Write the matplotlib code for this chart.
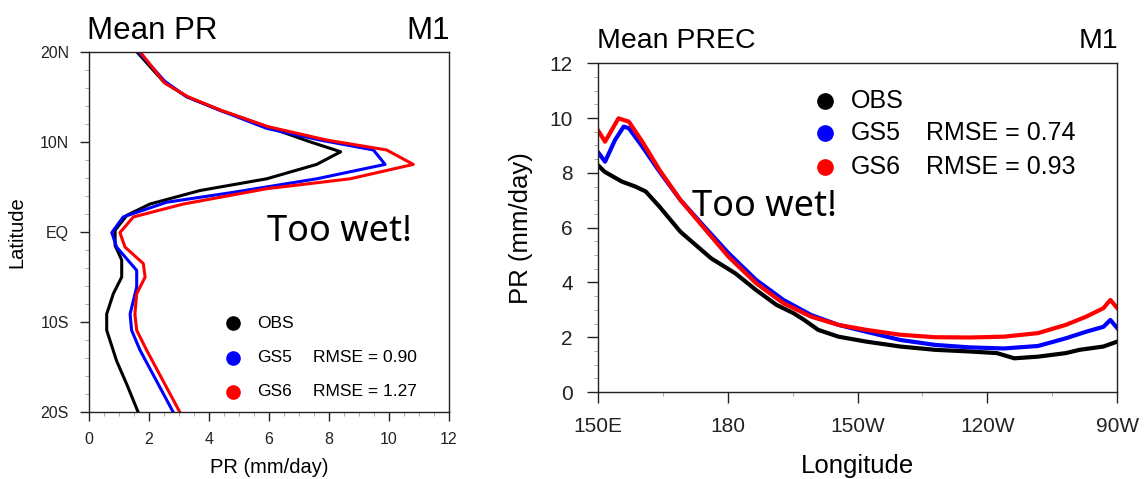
import matplotlib
matplotlib.use('Agg')
import matplotlib.pyplot as plt
from matplotlib.ticker import MultipleLocator

plt.rcParams['font.family'] = ['Liberation Sans', 'DejaVu Sans']

# left panel: zonal mean precip vs latitude
obs_lat = [20, 16.7, 15, 13.5, 11.7, 10, 8.9, 7.5, 5.9, 4.6, 3.1, 1.85, 0.2, -1.5, -3.1, -5, -6.85, -9.1, -10.9, -14.3, -16.9, -20]
obs_pr = [1.59, 2.48, 3.26, 4.37, 5.92, 7.37, 8.39, 7.59, 5.92, 3.7, 2.03, 1.26, 0.87, 0.87, 1.09, 1.09, 0.81, 0.59, 0.59, 0.92, 1.26, 1.64]
gs5_lat = [20, 16.7, 15, 13.5, 11.5, 10.2, 9.1, 7.5, 5.9, 4.4, 3.3, 1.67, -0.07, -1.67, -4.26, -6.1, -9.1, -10.9, -13.1, -20]
gs5_pr = [1.65, 2.53, 3.26, 4.37, 5.92, 7.7, 9.48, 9.87, 7.59, 4.81, 2.59, 1.14, 0.76, 0.92, 1.59, 1.59, 1.37, 1.42, 1.7, 2.81]
gs6_lat = [20, 16.5, 15, 13.5, 11.7, 10.2, 9.1, 7.5, 5.9, 4.8, 3.1, 1.67, -0.07, -1.67, -3.5, -5, -6.85, -9.1, -10.9, -13.1, -20]
gs6_pr = [1.7, 2.53, 3.3, 4.4, 5.95, 7.92, 9.92, 10.81, 8.7, 5.92, 3.14, 1.48, 1.03, 1.2, 1.81, 1.87, 1.59, 1.53, 1.59, 1.92, 3.03]
lat_ticks = [-20, -10, 0, 10, 20]
lat_labels = ['20S', '10S', 'EQ', '10N', '20N']
rmse_left = ['0.90', '1.27']

# right panel: precip vs longitude (0-360 east)
obs_lon = [150, 151.6, 155.6, 158.7, 161.1, 164.3, 169.1, 176.2, 181.8, 186.6, 191.3, 195.3, 197.7, 200.9, 205.6, 212, 219.9, 227.9, 235.8, 242.2, 246.2, 251.7, 258.1, 261.3, 266.8, 270]
obs_prec = [8.29, 8.04, 7.68, 7.5, 7.32, 6.76, 5.85, 4.88, 4.33, 3.72, 3.18, 2.87, 2.63, 2.27, 2.02, 1.84, 1.66, 1.54, 1.48, 1.42, 1.23, 1.29, 1.42, 1.54, 1.66, 1.84]
gs5_lon = [150, 151.7, 154, 156, 157.2, 160.3, 164.3, 169.1, 174.6, 180.2, 186.6, 192.9, 199.3, 205.6, 212, 219.9, 227.9, 235.8, 243.8, 251.7, 258.1, 262.8, 266.8, 268.4, 270]
gs5_prec = [8.77, 8.41, 9.2, 9.69, 9.63, 8.96, 8.04, 7.01, 6.04, 5.07, 4.09, 3.36, 2.81, 2.45, 2.2, 1.9, 1.72, 1.63, 1.59, 1.68, 1.96, 2.2, 2.38, 2.63, 2.33]
gs6_lon = [150, 151.7, 154.8, 157.2, 160.3, 164.3, 169.1, 174.6, 180.2, 186.6, 192.9, 199.3, 205.6, 212, 219.9, 227.9, 235.8, 243.8, 251.7, 258.1, 262.8, 266.8, 268.4, 270]
gs6_prec = [9.57, 9.14, 9.99, 9.87, 9.14, 8.1, 7.01, 5.98, 4.94, 3.97, 3.24, 2.75, 2.45, 2.27, 2.09, 2.0, 1.99, 2.02, 2.15, 2.45, 2.75, 3.06, 3.36, 3.06]
lon_ticks = [150, 180, 210, 240, 270]
lon_labels = ['150E', '180', '150W', '120W', '90W']
rmse_right = ['0.74', '0.93']

W, H = 1147, 479
fig = plt.figure(figsize=(W / 100, H / 100), dpi=100)


def px_axes(x0, y0, x1, y1):
    # pixel box (top-left origin) -> figure fraction
    return fig.add_axes([x0 / W, 1 - y1 / H, (x1 - x0) / W, (y1 - y0) / H])


def style_box(ax, lab_size, major_len, pad):
    for s in ax.spines.values():
        s.set_linewidth(1.0)
        s.set_color('#222222')
    ax.tick_params(which='both', direction='out', top=False, right=False, colors='#222222')
    ax.tick_params(which='major', length=major_len, width=1.0, labelsize=lab_size, pad=pad)
    ax.tick_params(which='minor', length=3, width=0.7, color='#aaaaaa')


colors = ['black', '#0000ff', '#ff0000']

# ---------- left ----------
ax1 = px_axes(89, 51.7, 449, 412.3)
ax1.plot(obs_pr, obs_lat, color=colors[0], lw=2.2)
ax1.plot(gs5_pr, gs5_lat, color=colors[1], lw=2.2)
ax1.plot(gs6_pr, gs6_lat, color=colors[2], lw=2.2)
ax1.set_xlim(0, 12)
ax1.set_ylim(-20, 20)
ax1.set_xticks(range(0, 13, 2))
ax1.set_yticks(lat_ticks)
ax1.set_yticklabels(lat_labels)
ax1.xaxis.set_minor_locator(MultipleLocator(0.5))
ax1.yaxis.set_minor_locator(MultipleLocator(2))
style_box(ax1, 11.5, 6.5, 8)
ax1.set_xlabel('PR (mm/day)', fontsize=14.5)
ax1.set_ylabel('Latitude', fontsize=14.5)
ax1.xaxis.set_label_coords(0.5, -0.128)
ax1.yaxis.set_label_coords(-0.175, 0.5)

names = ['OBS', 'GS5', 'GS6']
ys = [0.2476, 0.1506, 0.0563]
for i in range(3):
    ax1.plot([0.4], [ys[i]], 'o', color=colors[i], ms=9.5, transform=ax1.transAxes, clip_on=False)
    ax1.text(0.4667, ys[i], names[i], fontsize=12.5, va='center', transform=ax1.transAxes)
    if i > 0:
        ax1.text(0.622, ys[i], 'RMSE = ' + rmse_left[i - 1], fontsize=12.5, va='center', transform=ax1.transAxes)
ax1.text(0.4944, 0.476, 'Too wet!', fontsize=26, family=['Noto Sans', 'DejaVu Sans'],
         transform=ax1.transAxes, va='baseline')

fig.text(87 / W, 1 - 39 / H, 'Mean PR', fontsize=22.5, va='baseline', ha='left')
fig.text(450 / W, 1 - 39 / H, 'M1', fontsize=22.5, va='baseline', ha='right')

# ---------- right ----------
ax2 = px_axes(597.7, 63.3, 1117.3, 392)
ax2.plot(obs_lon, obs_prec, color=colors[0], lw=3)
ax2.plot(gs5_lon, gs5_prec, color=colors[1], lw=3)
ax2.plot(gs6_lon, gs6_prec, color=colors[2], lw=3)
ax2.set_xlim(150, 270)
ax2.set_ylim(0, 12)
ax2.set_xticks(lon_ticks)
ax2.set_xticklabels(lon_labels)
ax2.set_yticks(range(0, 13, 2))
ax2.xaxis.set_minor_locator(MultipleLocator(15))
ax2.yaxis.set_minor_locator(MultipleLocator(0.5))
style_box(ax2, 15, 8, 10)
ax2.set_xlabel('Longitude', fontsize=18.5)
ax2.set_ylabel('PR (mm/day)', fontsize=18.5)
ax2.xaxis.set_label_coords(0.5, -0.19)
ax2.yaxis.set_label_coords(-0.125, 0.5)

ys2 = [0.886, 0.787, 0.685]
for i in range(3):
    ax2.plot([0.4375], [ys2[i]], 'o', color=colors[i], ms=11, transform=ax2.transAxes, clip_on=False)
    ax2.text(0.4867, ys2[i], names[i], fontsize=18, va='center', transform=ax2.transAxes)
    if i > 0:
        ax2.text(0.632, ys2[i], 'RMSE = ' + rmse_right[i - 1], fontsize=18, va='center', transform=ax2.transAxes)
ax2.text(0.182, 0.5355, 'Too wet!', fontsize=26, family=['Noto Sans', 'DejaVu Sans'],
         transform=ax2.transAxes, va='baseline')

fig.text(596.7 / W, 1 - 48.3 / H, 'Mean PREC', fontsize=20.5, va='baseline', ha='left')
fig.text(1118 / W, 1 - 48.3 / H, 'M1', fontsize=20.5, va='baseline', ha='right')

fig.savefig('out.png', dpi=100)
